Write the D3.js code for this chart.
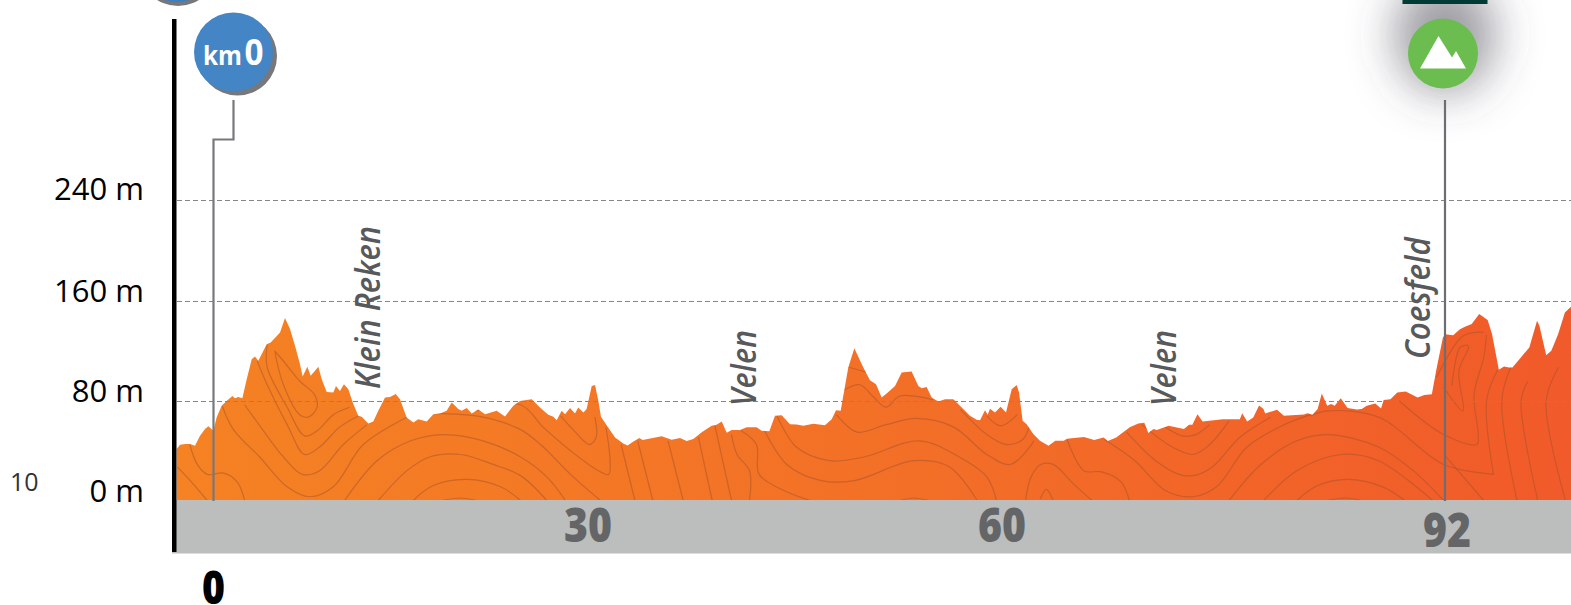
<!DOCTYPE html>
<html>
<head>
<meta charset="utf-8">
<script src="https://d3js.org/d3.v7.min.js"></script>
<style>
	body { margin: 0; background: #fff; overflow: hidden; }
	text { font-family: "Open Sans", sans-serif; }
</style>
</head>
<body>
<script>
	// Elevation profile: km along the route and metres
	var profileKm = [-2.95,-2.68,-2.28,-1.88,-1.48,-1.08,-0.68,-0.41,-0.01,0.25,0.65,1.05,1.51,1.72,1.99,2.31,2.66,3.06,3.32,3.59,4.26,4.58,5.33,5.73,6.13,6.53,6.93,7.14,7.52,7.78,8.13,8.40,8.67,9.07,9.60,9.81,10.13,10.45,10.80,11.20,11.60,11.87,12.40,12.80,13.20,13.74,14.14,14.59,14.94,15.47,16.01,16.41,17.08,17.61,18.14,18.68,19.08,19.61,19.88,20.28,20.68,21.21,21.75,22.68,23.35,24.02,24.55,
		25.49,26.15,26.82,27.22,27.49,27.89,28.16,28.56,28.96,29.22,29.63,29.89,30.27,30.51,30.75,30.94,31.30,31.96,32.56,32.87,33.29,33.72,33.96,35.34,36.06,36.67,37.15,37.63,38.24,38.96,39.32,39.69,40.05,40.41,41.01,41.50,42.22,42.58,43.14,43.55,44.03,44.64,45.12,45.60,46.33,47.17,47.66,47.97,48.31,48.86,49.30,49.95,50.43,50.87,51.28,51.64,52.25,52.73,53.45,53.94,54.18,54.54,54.90,55.39,55.87,56.47,57.08,57.68,58.16,58.41,58.77,58.96,59.13,59.49,59.90,60.29,60.70,61.06,61.23,61.49,61.78,62.26,62.74,
		63.36,63.85,64.46,64.70,65.92,66.66,67.34,67.64,68.25,69.23,69.84,70.28,70.57,70.94,71.18,72.04,73.14,73.51,73.75,74.12,74.49,75.95,77.18,77.35,77.71,78.15,78.57,78.89,79.01,79.87,80.36,81.82,82.07,82.43,82.80,83.10,83.49,83.78,84.03,84.47,84.96,85.62,85.98,86.35,86.96,87.38,87.57,88.06,88.55,89.16,90.02,90.51,91.05,91.36,91.85,92.02,92.59,93.08,93.44,93.93,94.47,95.08,95.40,95.89,96.26,96.62,96.87,97.48,98.09,98.65,98.82,99.31,99.68,100.17,100.66,101.10];
	var profileElev = [41.4,44.9,45.4,45.4,44.1,52.1,57.4,59.6,56.1,66.8,76.1,80.1,84.1,82.3,83.3,82.3,97.5,113.5,115.7,112.2,125.5,126.9,134.9,146.4,137.6,124.2,109.5,99.6,107.4,100.2,104.2,107.4,97.5,87.3,86.8,92.1,88.1,93.5,89.5,77.5,68.1,67.3,62.0,63.6,72.1,82.8,83.3,85.7,81.5,66.8,62.8,65.4,63.6,69.4,70.0,72.1,78.8,73.5,72.1,74.3,70.0,73.2,69.4,72.1,67.6,76.1,80.1,
		81.5,74.8,68.9,67.3,64.6,72.1,69.4,74.3,70.0,74.8,70.8,73.5,92.1,92.9,80.1,67.3,61.4,50.7,45.9,44.3,47.5,50.2,48.6,51.6,48.9,50.2,47.8,49.4,54.8,60.1,60.9,63.6,54.5,56.6,56.6,58.8,58.8,56.1,55.6,68.1,68.6,61.4,61.2,60.1,61.7,60.6,65.4,72.6,72.1,106.8,122.3,106.8,96.7,93.5,82.8,86.0,92.1,102.8,103.6,92.1,90.3,91.3,82.8,79.6,81.5,81.5,74.8,68.1,64.9,64.6,72.6,68.9,73.7,70.8,75.3,70.8,89.5,92.9,86.8,64.1,61.4,53.4,48.1,
		44.1,48.1,48.1,49.7,51.0,48.6,50.7,47.8,50.7,58.8,62.0,62.5,54.2,57.4,56.6,60.1,57.4,60.9,60.9,69.4,63.6,65.4,65.4,70.2,63.6,66.8,76.4,73.5,70.0,72.9,68.1,69.2,70.2,68.9,73.5,86.0,76.1,77.5,76.1,82.3,74.3,73.2,73.5,76.1,78.0,74.0,80.9,81.5,86.8,87.6,82.8,84.9,85.5,104.2,130.9,133.5,132.7,137.5,139.4,141.6,149.6,144.8,133.5,105.0,107.6,106.8,106.8,114.9,122.9,144.2,140.2,116.7,120.2,133.5,150.9,155.4];

	var elevTicks = [0, 80, 160, 240];
	var kmLabels = [0, 30, 60, 92];
	var places = ["Klein Reken", "Velen", "Velen", "Coesfeld"];
	var placeKm = [12.08, 41.0, 71.44, 89.74];

	// Terrain contour lines inside the profile, [km, m]
	var contours = [
		[[-1.9,45],[-1.3,29],[-0.5,21],[0.8,22],[1.9,15],[2.5,0]],
		[[-2.9,27],[-1.6,13],[-0.5,0]],
		[[0.7,76],[1.6,57],[3.7,35],[5.9,11],[7.7,3],[9.6,11],[12,45],[15.5,67]],
		[[2.5,77],[4,56],[5.6,35],[7.1,21],[8.5,24],[10.4,45],[12.3,61]],
		[[3.5,112],[4.3,93],[5.9,61],[7.3,37],[8.5,43],[10.1,59],[11.6,68]],
		[[4.3,125],[4.3,107],[5.9,75],[7.3,52],[8.3,56],[9.6,69],[10.9,75]],
		[[4.9,120],[5.6,93],[6.9,69],[7.6,67],[8.3,75],[8.1,85],[6.9,96],[5.6,112],[4.9,120]],
		[[10.5,0],[13.1,32],[15.8,48],[18.4,53],[21.6,48],[24.6,35],[26.7,19],[28.2,0]],
		[[13.2,0],[15.5,24],[17.3,35],[19.8,37],[22.4,29],[24.6,20],[26.7,0]],
		[[16,0],[17.6,12],[20.3,17],[23,11],[24.6,0]],
		[[18.3,0],[19.8,2],[21.1,0]],
		[[21,72],[24.6,77],[26.4,59],[28.6,40],[30.6,25],[31.5,21],[31.6,32],[31.3,59]],
		[[27.8,68],[28.9,56],[30.1,45],[30.6,51],[30.5,67]],
		[[17.5,70],[21.6,67],[24.6,57],[26.2,45],[28.6,21],[30.9,0]],
		[[32.4,45],[33.4,0]], [[33.6,48],[34.7,0]], [[35.8,48],[36.9,0]], [[38,51],[39,0]], [[39.2,60],[40.4,0]],
		[[40.4,53],[40.8,37],[41.7,24],[41.7,0]],
		[[41.1,56],[42.2,45],[42.4,21],[44.2,8],[46.1,0]],
		[[42.8,56],[44.4,29],[46.9,16],[49.3,16],[53.6,32],[56.2,27],[58.2,0]],
		[[43.7,68],[45.1,43],[47.5,32],[50,35],[54,48],[56.9,35],[58.9,19],[59.6,0]],
		[[48,69],[49.5,55],[51.6,61],[53.8,66],[56.5,59],[58.9,37],[60.6,29],[62,43],[62.3,48]],
		[[48.6,89],[49.7,93],[50.7,83],[51.6,75],[52.6,84],[55,81]],
		[[48.9,107],[50.2,103]],
		[[52.6,0],[53.6,2],[54.7,0]],
		[[57,73],[58.9,53],[60.3,45],[61.5,49],[62,61]],
		[[58.9,68],[59.9,60],[61.1,69]],
		[[61.7,0],[62.1,19],[62.8,29],[63.7,29],[65.2,13],[66.5,0]],
		[[64.7,49],[65.9,24],[67.2,23],[68.6,15],[69.2,0]],
		[[62.75,1],[63.2,9],[63.7,0]],
		[[67.4,49],[69.6,32],[71.8,8],[73.8,3],[75.5,11],[77.7,43],[80.4,61],[82.3,69]],
		[[69,55],[71.1,32],[72.8,21],[73.8,20],[75.2,27],[77.2,51],[79.4,67]],
		[[70.1,61],[72.3,43],[73.8,37],[75,45],[76.4,64]],
		[[71.8,59],[73,52],[74,53],[75,61]],
		[[76.4,0],[78.7,29],[81.3,48],[83.5,53],[87.2,43],[89.7,24],[91.9,0]],
		[[82.3,68],[83.5,72],[87.2,67],[91.9,29],[95.5,21]],
		[[78.9,0],[81.3,24],[84.5,37],[87.2,32],[91.1,0]],
		[[81.3,0],[82.8,12],[85,17],[87.5,11],[89.1,0]],
		[[83.5,0],[84.8,2],[86,0]],
		[[88.7,80],[91.9,53],[94.3,45],[94.4,53],[94.1,85],[94.8,115],[95,133]],
		[[91.4,99],[93.3,132],[94.8,135]],
		[[92.5,92],[93.1,123],[93.7,124],[93,104],[93.3,72],[91.9,91]],
		[[95.8,105],[95,80],[95.5,21]],
		[[96.75,107],[96.1,80],[97.2,0]],
		[[98,96],[97.5,80],[98.7,0]],
		[[100.2,107],[99.3,80],[100.7,0]],
		[[92,36],[94.8,0]]
	];

	var width = 1571;
	var height = 605;

	// km marks on the band are not evenly spaced in the picture
	var x = d3.scaleLinear().domain(kmLabels).range([213.5, 588, 1002, 1445]);
	var y = d3.scaleLinear().domain(elevTicks).range([500.5, 401, 301, 200]);

	var svg = d3.select("body").append("svg")
		.attr("width", width)
		.attr("height", height);

	var defs = svg.append("defs");

	var grad = defs.append("linearGradient")
		.attr("id", "profileFill")
		.attr("gradientUnits", "userSpaceOnUse")
		.attr("x1", 177).attr("x2", width)
		.attr("y1", 0).attr("y2", 0);
	grad.append("stop").attr("offset", "0%").attr("stop-color", "#f58223");
	grad.append("stop").attr("offset", "50%").attr("stop-color", "#f37027");
	grad.append("stop").attr("offset", "100%").attr("stop-color", "#f15a2a");

	defs.append("filter").attr("id", "glow")
		.attr("x", "-100%").attr("y", "-100%").attr("width", "300%").attr("height", "300%")
		.append("feGaussianBlur").attr("stdDeviation", 23);

	var points = profileKm.map(function(d, i) { return [d, profileElev[i]]; });

	var area = d3.area()
		.x(function(d) { return x(d[0]); })
		.y0(y(0))
		.y1(function(d) { return y(d[1]); });

	defs.append("clipPath").attr("id", "profileClip")
		.append("path").attr("d", area(points));

	svg.append("path")
		.attr("d", area(points))
		.style("fill", "url(#profileFill)");

	// contour lines
	var contourLine = d3.line()
		.x(function(d) { return x(d[0]); })
		.y(function(d) { return y(d[1]); })
		.curve(d3.curveCatmullRom.alpha(0.5));

	svg.append("g")
		.attr("clip-path", "url(#profileClip)")
		.selectAll("path")
		.data(contours)
		.enter()
		.append("path")
		.attr("d", contourLine)
		.style("fill", "none")
		.style("stroke", "#a5522a")
		.style("stroke-opacity", 0.5)
		.style("stroke-width", 1.2);

	// grey distance band
	svg.append("rect")
		.attr("x", 172).attr("y", 500)
		.attr("width", width - 172).attr("height", 53.5)
		.style("fill", "#bcbdbd");

	// dashed elevation lines
	svg.selectAll(".grid")
		.data(elevTicks.slice(1))
		.enter()
		.append("line")
		.attr("class", "grid")
		.attr("x1", 177).attr("x2", width)
		.attr("y1", function(d) { return y(d) + 0.5; })
		.attr("y2", function(d) { return y(d) + 0.5; })
		.style("stroke", "#858585")
		.style("stroke-width", 1)
		.style("stroke-dasharray", "5 3");

	// elevation labels
	svg.selectAll(".elev")
		.data(elevTicks)
		.enter()
		.append("text")
		.attr("class", "elev")
		.attr("x", 144)
		.attr("y", function(d) { return y(d) + (d == 240 ? 0 : 1); })
		.attr("text-anchor", "end")
		.style("font-size", "31px")
		.style("fill", "#000")
		.text(function(d) { return d + " m"; });

	svg.append("text")
		.attr("x", 10).attr("y", 491)
		.style("font-size", "25px")
		.style("fill", "#333")
		.text("10");

	// axis bar
	svg.append("rect")
		.attr("x", 172).attr("y", 19)
		.attr("width", 4.5).attr("height", 533)
		.style("fill", "#000");

	// km numbers
	svg.selectAll(".km")
		.data(kmLabels.slice(1))
		.enter()
		.append("text")
		.attr("class", "km")
		.attr("x", function(d) { return x(d) + (d == 92 ? 2 : 0); })
		.attr("y", function(d) { return d == 92 ? 547 : 541.5; })
		.attr("text-anchor", "middle")
		.attr("textLength", 48)
		.attr("lengthAdjust", "spacingAndGlyphs")
		.style("font-size", "47px")
		.style("font-weight", 800)
		.style("fill", "#636566")
		.text(function(d) { return d; });

	svg.append("text")
		.attr("x", x(0)).attr("y", 604)
		.attr("text-anchor", "middle")
		.attr("textLength", 23)
		.attr("lengthAdjust", "spacingAndGlyphs")
		.style("font-size", "46px")
		.style("font-weight", 800)
		.style("fill", "#000")
		.text(kmLabels[0]);

	// place names, turned on their side
	var placeLength = [163, 76, 76, 122];
	var placeBottom = [389, 406, 406, 359];
	svg.selectAll(".place")
		.data(places)
		.enter()
		.append("text")
		.attr("class", "place")
		.attr("transform", function(d, i) {
			return "translate(" + (x(placeKm[i]) + 16) + "," + placeBottom[i] + ") rotate(-90)";
		})
		.attr("textLength", function(d, i) { return placeLength[i]; })
		.attr("lengthAdjust", "spacingAndGlyphs")
		.style("font-size", "35px")
		.style("font-style", "italic")
		.style("font-weight", 600)
		.style("fill", "#58595b")
		.text(function(d) { return d; });

	// km 0 marker
	svg.append("path")
		.attr("d", "M233.5,100V139.5H" + x(0) + "V501")
		.style("fill", "none")
		.style("stroke", "#77787b")
		.style("stroke-width", 2.2);

	svg.append("circle").attr("cx", 178).attr("cy", -33).attr("r", 39).style("fill", "#77787b");
	svg.append("circle").attr("cx", 177).attr("cy", -36).attr("r", 38).style("fill", "#3a7fc0");

	svg.append("circle").attr("cx", 237.5).attr("cy", 56).attr("r", 39.5).style("fill", "#77787b");
	svg.append("circle").attr("cx", 233.5).attr("cy", 52).attr("r", 39.5).style("fill", "#4485c5");

	svg.append("text")
		.attr("x", 203).attr("y", 65)
		.attr("textLength", 39)
		.attr("lengthAdjust", "spacingAndGlyphs")
		.style("font-size", "27px")
		.style("font-weight", 700)
		.style("fill", "#fff")
		.text("km");
	svg.append("text")
		.attr("x", 244.5).attr("y", 65)
		.attr("textLength", 19)
		.attr("lengthAdjust", "spacingAndGlyphs")
		.style("font-size", "36px")
		.style("font-weight", 700)
		.style("fill", "#fff")
		.text("0");

	// km 92 climb marker
	svg.append("ellipse")
		.attr("cx", 1445).attr("cy", 35).attr("rx", 50).attr("ry", 58)
		.attr("filter", "url(#glow)")
		.style("fill", "#4d4a58")
		.style("fill-opacity", 0.55);

	svg.append("line")
		.attr("x1", x(92)).attr("x2", x(92))
		.attr("y1", 100).attr("y2", 501)
		.style("stroke", "#6d6e71")
		.style("stroke-width", 2.2);

	svg.append("rect")
		.attr("x", 1402.5).attr("y", -2)
		.attr("width", 85).attr("height", 6)
		.style("fill", "#003b36");

	svg.append("circle").attr("cx", 1443).attr("cy", 53.5).attr("r", 35).style("fill", "#6abd4e");

	svg.append("path")
		.attr("d", "M1420,68.5L1438.5,36L1452,57.5L1456,51L1466,68.5Z")
		.style("fill", "#fff");
</script>
</body>
</html>
